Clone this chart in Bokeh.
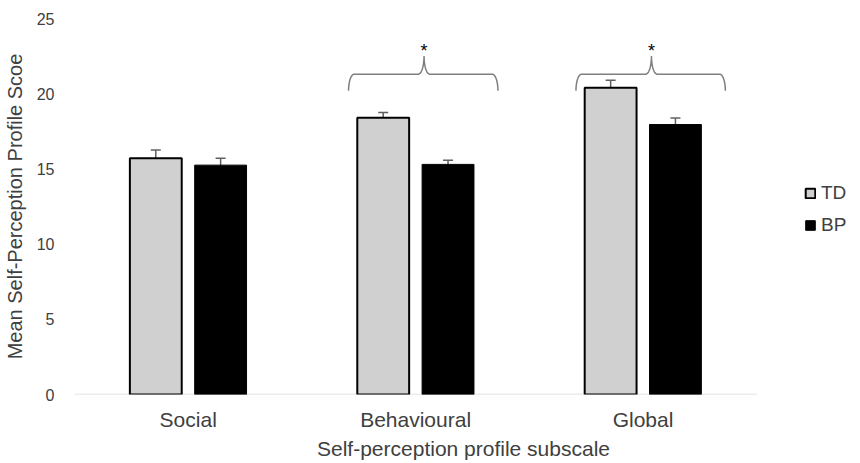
import numpy as np
from bokeh.plotting import figure
from bokeh.models import (Range1d, FixedTicker, Legend, LegendItem, ColumnDataSource,
                          Whisker, TeeHead)
from bokeh.embed import file_html
from bokeh.resources import INLINE
from bokeh.core.properties import value

categories = ["Social", "Behavioural", "Global"]
groups = ["TD", "BP"]
td_mean = [15.7, 18.4, 20.4]
bp_mean = [15.25, 15.3, 17.95]
td_err = [0.55, 0.35, 0.5]
bp_err = [0.45, 0.28, 0.44]
significant = [False, True, True]
y_ticks = [0, 5, 10, 15, 20, 25]

FONT = "Liberation Sans"
TXT = "#404040"

W, H = 852, 462
LEFT, RIGHT, TOP, BOTTOM = 72, 0, 18, 66
frame_w = W - LEFT - RIGHT
cat_px = 228.0

p = figure(width=W, height=H, output_backend="svg", toolbar_location=None,
           x_range=Range1d(0, frame_w / cat_px), y_range=Range1d(0, 25),
           min_border_left=LEFT, min_border_right=RIGHT, min_border_top=TOP,
           min_border_bottom=BOTTOM)
p.outline_line_color = None
p.grid.visible = False
p.background_fill_color = "white"
p.border_fill_color = "white"

centers = np.arange(len(categories)) + 0.5
off = 0.1425
bw = 0.228

# category axis baseline (only across the categories)
p.segment(x0=[0], y0=[0], x1=[len(categories)], y1=[0], line_color="#d9d9d9", line_width=1.5)

td_src = ColumnDataSource(dict(x=centers - off, top=td_mean,
                               up=np.array(td_mean) + np.array(td_err),
                               lo=np.array(td_mean) - np.array(td_err)))
bp_src = ColumnDataSource(dict(x=centers + off, top=bp_mean,
                               up=np.array(bp_mean) + np.array(bp_err),
                               lo=np.array(bp_mean) - np.array(bp_err)))

r_td = p.vbar(x="x", top="top", width=bw, bottom=0, source=td_src,
              fill_color="#d0d0d0", line_color="black", line_width=2)
r_bp = p.vbar(x="x", top="top", width=bw, bottom=0, source=bp_src,
              fill_color="black", line_color="black", line_width=1)

for src in (td_src, bp_src):
    w = Whisker(base="x", upper="up", lower="lo", source=src,
                line_color="#606060", line_width=1.5,
                upper_head=TeeHead(size=10, line_color="#606060", line_width=1.5),
                lower_head=TeeHead(size=10, line_color="#606060", line_width=1.5))
    p.add_layout(w)

# significance braces
y_end, y_bar, y_tip, y_star = 20.2, 21.3, 22.5, 22.85
r = 0.025
bx, by, sx_, sy_ = [], [], [], []
for i, sig in enumerate(significant):
    if not sig:
        continue
    c = centers[i]
    xl, xr, xm = c - 0.295, c + 0.362, c + 0.037
    t1 = np.linspace(np.pi, np.pi / 2, 12)
    t2 = np.linspace(-np.pi / 2, 0, 12)
    xs = list(xl + r + r * np.cos(t1)) + list(xm - r + r * np.cos(t2))
    ys = list(y_end + (y_bar - y_end) * np.sin(t1)) + list(y_tip + (y_tip - y_bar) * np.sin(t2))
    t3 = np.linspace(np.pi, np.pi * 1.5, 12)
    t4 = np.linspace(np.pi / 2, 0, 12)
    xs += list(xm + r + r * np.cos(t3)) + list(xr - r + r * np.cos(t4))
    ys += list(y_tip + (y_tip - y_bar) * np.sin(t3)) + list(y_end + (y_bar - y_end) * np.sin(t4))
    bx.append(xs)
    by.append(ys)
    sx_.append(xm)
    sy_.append(y_star)

p.multi_line(xs=bx, ys=by, line_color="#7f7f7f", line_width=1.5)
p.text(x=sx_, y=sy_, text=["*"] * len(sx_), text_align="center", text_baseline="middle",
       text_font=value(FONT), text_font_size="18px", text_color="black")

# axes
p.xaxis.ticker = FixedTicker(ticks=list(centers))
p.xaxis.major_label_overrides = {float(c): n for c, n in zip(centers, categories)}
p.xaxis.axis_line_color = None
p.xaxis.major_tick_line_color = None
p.xaxis.minor_tick_line_color = None
p.xaxis.major_label_standoff = 7
p.xaxis.major_label_text_font = FONT
p.xaxis.major_label_text_font_size = "21px"
p.xaxis.major_label_text_color = TXT
p.xaxis.axis_label = "Self-perception profile subscale"
p.xaxis.axis_label_text_font = FONT
p.xaxis.axis_label_text_font_size = "21px"
p.xaxis.axis_label_text_font_style = "normal"
p.xaxis.axis_label_text_color = TXT
p.xaxis.axis_label_standoff = 3

p.yaxis.ticker = FixedTicker(ticks=y_ticks)
p.yaxis.axis_line_color = None
p.yaxis.major_tick_line_color = None
p.yaxis.minor_tick_line_color = None
p.yaxis.major_label_standoff = 14
p.yaxis.major_label_text_font = FONT
p.yaxis.major_label_text_font_size = "16px"
p.yaxis.major_label_text_color = TXT
p.yaxis.axis_label = "Mean Self-Perception Profile Scoe"
p.yaxis.axis_label_text_font = FONT
p.yaxis.axis_label_text_font_size = "20px"
p.yaxis.axis_label_text_font_style = "normal"
p.yaxis.axis_label_text_color = TXT
p.yaxis.axis_label_standoff = 8

legend = Legend(items=[LegendItem(label=groups[0], renderers=[r_td]),
                       LegendItem(label=groups[1], renderers=[r_bp])],
                location=(730, 158), orientation="vertical",
                glyph_width=12, glyph_height=12, label_standoff=5,
                label_text_font=FONT, label_text_font_size="19px", label_text_color=TXT,
                label_height=20, spacing=10, padding=0, margin=0,
                border_line_color=None, background_fill_alpha=0)
p.add_layout(legend)

open("out.html", "w").write(file_html(p, INLINE))
